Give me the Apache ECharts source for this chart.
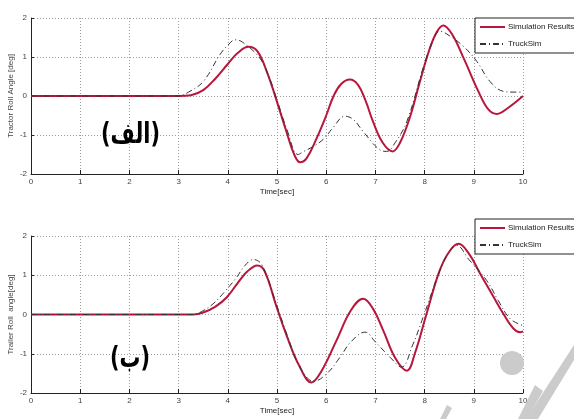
<!DOCTYPE html>
<html><head><meta charset="utf-8">
<script src="https://cdn.jsdelivr.net/npm/echarts@6/dist/echarts.min.js"></script>
<style>html,body{margin:0;padding:0;background:#fff}#c{width:574px;height:419px}</style>
</head><body><div id="c"></div>
<script>
const xTicks = [0,1,2,3,4,5,6,7,8,9,10];
const yTicks = [-2,-1,0,1,2];
const seriesNames = ['Simulation Results', 'TruckSim'];
const yTitles = ['Tractor Roll Angle [deg]', 'Trailer Roll  angle[deg]'];
const xTitle = 'Time[sec]';
const panelTags = ['(الف)', '(ب)'];

// Top panel (tractor)
const simTopT = [0,3.0,3.25,3.5,3.75,4.0,4.2,4.42,4.6,4.8,5.0,5.2,5.35,5.47,5.6,5.8,6.0,6.15,6.3,6.48,6.65,6.8,6.95,7.15,7.35,7.5,7.7,7.9,8.1,8.25,8.38,8.55,8.8,9.1,9.3,9.47,9.7,10];
const simTopY = [0,0,0.02,0.15,0.45,0.82,1.1,1.26,1.15,0.6,-0.15,-0.95,-1.5,-1.7,-1.6,-1.1,-0.5,0.0,0.3,0.42,0.28,-0.12,-0.65,-1.2,-1.42,-1.2,-0.55,0.35,1.2,1.65,1.81,1.6,0.95,0.1,-0.35,-0.46,-0.3,0.0];
const truckTopT = [0,3.0,3.2,3.5,3.84,4.0,4.15,4.3,4.65,4.85,5.0,5.2,5.43,5.53,5.74,5.95,6.14,6.38,6.55,6.75,7.09,7.23,7.4,7.64,7.97,8.15,8.31,8.5,8.79,9.06,9.33,9.6,9.8,10];
const truckTopY = [0,0,0.1,0.37,1.06,1.3,1.44,1.38,0.97,0.45,-0.1,-0.85,-1.5,-1.43,-1.29,-1.1,-0.81,-0.52,-0.6,-0.91,-1.38,-1.42,-1.2,-0.65,0.72,1.35,1.66,1.55,1.27,0.89,0.37,0.12,0.1,0.1];

// Bottom panel (trailer)
const simBotT = [0,3.3,3.5,3.75,3.98,4.2,4.4,4.6,4.75,4.99,5.2,5.45,5.7,5.9,6.21,6.5,6.75,6.95,7.16,7.4,7.64,7.8,8.04,8.3,8.5,8.69,8.9,9.13,9.4,9.6,9.8,9.94,10];
const simBotY = [0,0,0.05,0.2,0.44,0.8,1.1,1.25,1.1,0.2,-0.55,-1.3,-1.73,-1.45,-0.66,0.1,0.4,0.15,-0.41,-1.1,-1.43,-1.0,0.02,1.1,1.6,1.8,1.55,1.04,0.45,0.02,-0.35,-0.45,-0.43];
const truckBotT = [0,3.3,3.5,3.7,3.95,4.18,4.35,4.52,4.7,4.99,5.2,5.45,5.75,6.01,6.28,6.5,6.79,7.0,7.3,7.53,7.75,7.97,8.31,8.5,8.65,8.9,9.26,9.5,9.74,10];
const truckBotY = [0,0,0.1,0.27,0.6,0.95,1.25,1.4,1.25,0.25,-0.5,-1.3,-1.7,-1.51,-1.09,-0.7,-0.45,-0.7,-1.09,-1.34,-0.8,-0.07,1.12,1.6,1.76,1.4,0.87,0.35,-0.11,-0.28];

const zip = (t, y) => t.map((v, i) => [v, y[i]]);
const FONT = 'Liberation Sans';
const RED = '#b8163c';

function xAxis(gi) {
  return {
    gridIndex: gi, type: 'value', min: 0, max: 10, interval: 1,
    name: xTitle, nameLocation: 'middle', nameGap: 14,
    nameTextStyle: { fontFamily: FONT, fontSize: 8, color: '#222' },
    axisLine: { onZero: false, lineStyle: { color: '#222', width: 1 } },
    axisTick: { inside: true, length: 4, lineStyle: { color: '#222' } },
    axisLabel: { fontFamily: FONT, fontSize: 8, color: '#444', margin: 4 },
    splitLine: { show: true, lineStyle: { color: '#9a9a9a', type: [1, 2], width: 1 } }
  };
}
function yAxis(gi) {
  return {
    gridIndex: gi, type: 'value', min: -2, max: 2, interval: 1,
    name: yTitles[gi], nameLocation: 'middle', nameGap: 16, nameRotate: 90,
    nameMoveOverlap: false,
    nameTextStyle: { fontFamily: FONT, fontSize: 8, color: '#444' },
    axisLine: { show: true, onZero: false, lineStyle: { color: '#222', width: 1 } },
    axisTick: { show: true, inside: true, length: 3, lineStyle: { color: '#222' } },
    axisLabel: { fontFamily: FONT, fontSize: 8, color: '#444', margin: 4 },
    splitLine: { show: true, lineStyle: { color: '#9a9a9a', type: [1, 2], width: 1 } }
  };
}
function simSeries(gi, data) {
  return { name: seriesNames[0], type: 'line', xAxisIndex: gi, yAxisIndex: gi, data,
    showSymbol: false, symbol: 'none', smooth: 0.4,
    lineStyle: { color: RED, width: 2 }, itemStyle: { color: RED }, z: 3 };
}
function truckSeries(gi, data) {
  return { name: seriesNames[1], type: 'line', xAxisIndex: gi, yAxisIndex: gi, data,
    showSymbol: false, symbol: 'none', smooth: 0.4,
    lineStyle: { color: '#333', width: 1, type: [6, 3, 1, 3] }, itemStyle: { color: '#333' }, z: 4 };
}
function legend(top) {
  return {
    orient: 'vertical', left: 475, top: top, itemWidth: 25, itemHeight: 8, itemGap: 9,
    padding: [5, 20, 5, 4], backgroundColor: '#fff', borderColor: '#222', borderWidth: 1,
    itemStyle: { color: 'transparent', borderWidth: 0, opacity: 0 },
    textStyle: { fontFamily: FONT, fontSize: 8, color: '#222', padding: [0, 0, 0, -2] },
    data: seriesNames
  };
}

const chart = echarts.init(document.getElementById('c'), null, { renderer: 'canvas' });
chart.setOption({
  backgroundColor: '#fff',
  animation: false,
  grid: [
    { left: 31, top: 18, width: 492, height: 156, containLabel: false, outerBoundsMode: 'none' },
    { left: 31, top: 236, width: 492, height: 157, containLabel: false, outerBoundsMode: 'none' }
  ],
  xAxis: [xAxis(0), xAxis(1)],
  yAxis: [yAxis(0), yAxis(1)],
  legend: [legend(18), legend(219)],
  series: [
    simSeries(0, zip(simTopT, simTopY)),
    truckSeries(0, zip(truckTopT, truckTopY)),
    simSeries(1, zip(simBotT, simBotY)),
    truckSeries(1, zip(truckBotT, truckBotY))
  ],
  graphic: [
    { type: 'text', x: 101, y: 121, scaleX: 0.72, z: 10,
      style: { text: panelTags[0], font: 'bold 29px "DejaVu Sans"', fill: '#000' } },
    { type: 'text', x: 110, y: 345, scaleX: 0.72, z: 10,
      style: { text: panelTags[1], font: 'bold 29px "DejaVu Sans"', fill: '#000' } },
    { type: 'circle', shape: { cx: 512, cy: 363, r: 12 }, style: { fill: '#cbcbcb' }, z: 20 },
    { type: 'polygon', shape: { points: [[574,345],[574,360],[538,419],[526,419]] }, style: { fill: '#cbcbcb' }, z: 20 },
    { type: 'polygon', shape: { points: [[535,385],[543,391],[527,419],[518,419]] }, style: { fill: '#cbcbcb' }, z: 20 },
    { type: 'polygon', shape: { points: [[447,405],[452,408],[446,419],[440,419]] }, style: { fill: '#cbcbcb' }, z: 20 }
  ]
});
</script></body></html>
